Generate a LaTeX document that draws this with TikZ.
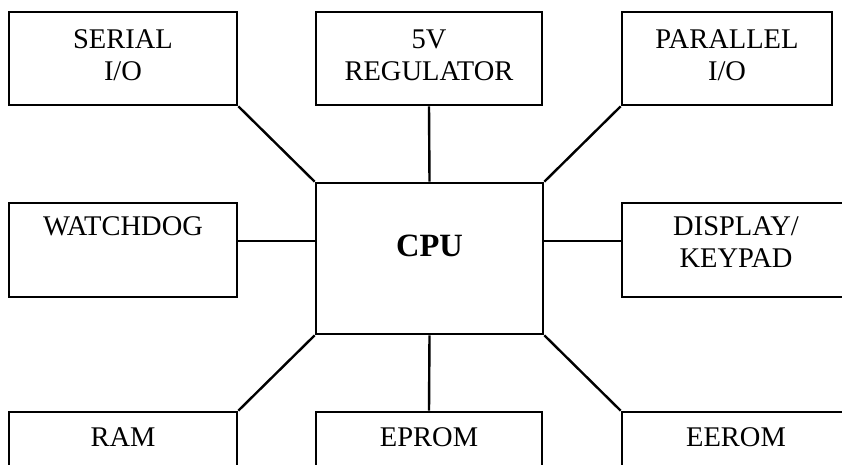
\documentclass[tikz,border=0pt]{standalone}
\usepackage{fontspec}
\setmainfont{Liberation Serif}
\tikzset{
  blk/.style={draw, line width=2.7pt, inner sep=0pt, minimum height=93pt},
  lbl/.style={anchor=north, align=center, inner sep=0pt, font=\fontsize{28.5}{32}\selectfont},
  wire/.style={line width=2.4pt},
}
\begin{document}
\begin{tikzpicture}[x=1pt,y=-1pt]
\useasboundingbox (0,0) rectangle (842,464);
% top row
\node[blk, minimum width=228pt] (ser) at (123,58.5) {};
\node[blk, minimum width=226pt] (reg) at (429,58.5) {};
\node[blk, minimum width=210pt] (par) at (727,58.5) {};
\node[lbl] (serT) at ([yshift=-18.5pt]ser.north) {SERIAL\\I/O};
\node[lbl] (regT) at ([yshift=-18.5pt]reg.north) {5V\\REGULATOR};
\node[lbl] (parT) at ([yshift=-18.5pt]par.north) {PARALLEL\\I/O};
% middle row
\node[blk, minimum width=228pt, minimum height=94pt] (wd) at (123,250) {};
\node[blk, minimum width=227pt, minimum height=151pt] (cpu) at (429.5,258.5) {};
\node[blk, minimum width=228pt, minimum height=94pt] (dk) at (736,250) {};
\node[lbl] (wdT) at ([yshift=-14.5pt]wd.north) {WATCHDOG};
\node[lbl, font=\fontsize{32.5}{36}\selectfont\bfseries] (cpuT) at ([yshift=-53pt]cpu.north) {CPU};
\node[lbl] (dkT) at ([yshift=-14.5pt]dk.north) {DISPLAY/\\KEYPAD};
% bottom row (runs off the page)
\node[blk, minimum width=228pt, minimum height=100pt] (ram) at (123,462) {};
\node[blk, minimum width=226pt, minimum height=100pt] (epr) at (429,462) {};
\node[blk, minimum width=228pt, minimum height=100pt] (eer) at (736,462) {};
\node[lbl] (ramT) at ([yshift=-16.5pt]ram.north) {RAM};
\node[lbl] (eprT) at ([yshift=-16.5pt]epr.north) {EPROM};
\node[lbl] (eerT) at ([yshift=-16.5pt]eer.north) {EEROM};
% links to the CPU
\draw[wire] (ser.south east) -- (cpu.north west);
\draw[wire] (reg.south) -- (cpu.north);
\draw[wire] (par.south west) -- (cpu.north east);
\draw[wire] ([yshift=9pt]wd.east) -- ([yshift=9pt]wd.east -| cpu.west);
\draw[wire] ([yshift=9pt]dk.west -| cpu.east) -- ([yshift=9pt]dk.west);
\draw[wire] (cpu.south west) -- (ram.north east);
\draw[wire] (cpu.south) -- (epr.north);
\draw[wire] (cpu.south east) -- (eer.north west);
\end{tikzpicture}
\end{document}
